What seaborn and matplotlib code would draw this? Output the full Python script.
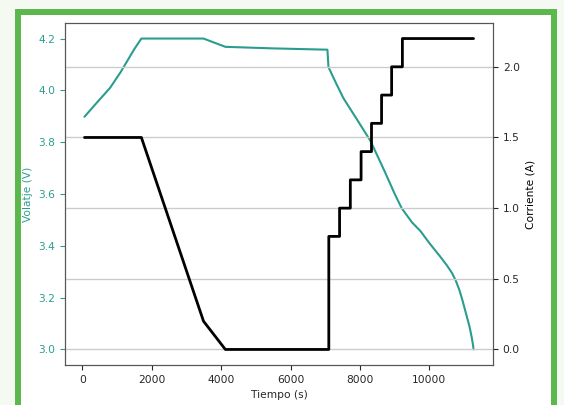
import pandas as pd
from matplotlib import pyplot as plt
from matplotlib.patches import Rectangle
import seaborn as sns

# voltage trace (s, V)
t_volt = [60, 400, 800, 1100, 1300, 1500, 1700, 3490, 4120, 5500, 7060, 7090,
          7300, 7520, 7900, 8300, 8700, 9000, 9200, 9500, 9740, 10000, 10300,
          10500, 10650, 10760, 10860, 10950, 11030, 11100, 11150, 11190, 11220,
          11245, 11260, 11270]
voltaje = [3.898, 3.95, 4.01, 4.07, 4.115, 4.16, 4.2, 4.2, 4.168, 4.162, 4.157, 4.09,
           4.03, 3.97, 3.89, 3.805, 3.69, 3.60, 3.545, 3.49, 3.457, 3.41, 3.36,
           3.325, 3.295, 3.265, 3.23, 3.19, 3.15, 3.115, 3.09, 3.065, 3.045,
           3.025, 3.012, 3.0]

# current profile (s, A)
t_corr = [60, 1700, 3490, 4120, 7100, 7100, 7410, 7410, 7720, 7720, 8030, 8030,
          8330, 8330, 8620, 8620, 8910, 8910, 9220, 9220, 11270]
corriente = [1.5, 1.5, 0.2, 0.0, 0.0, 0.8, 0.8, 1.0, 1.0, 1.2, 1.2, 1.4,
             1.4, 1.6, 1.6, 1.8, 1.8, 2.0, 2.0, 2.2, 2.2]

volt_df = pd.DataFrame({'t': t_volt, 'v': voltaje})
corr_df = pd.DataFrame({'t': t_corr, 'i': corriente})

sns.set_style('ticks')
plt.rcParams['font.family'] = ['DejaVu Sans']
plt.rcParams['font.size'] = 7.7

teal = '#2a9d8f'

fig = plt.figure(figsize=(5.64, 4.05), dpi=100, facecolor='#f4f9f2')
# green frame around the chart
fig.patches.append(Rectangle((15 / 564, -0.1), 542 / 564, 1.1 - 9 / 405,
                             transform=fig.transFigure, facecolor='#5cb84c',
                             edgecolor='none', zorder=-2))
fig.patches.append(Rectangle((21 / 564, -0.1), 530 / 564, 1.1 - 15 / 405,
                             transform=fig.transFigure, facecolor='white',
                             edgecolor='none', zorder=-1))

ax = fig.add_axes([65 / 564, 40 / 405, 428 / 564, 342 / 405])
ax2 = ax.twinx()

sns.lineplot(ax=ax, data=volt_df, x='t', y='v', color=teal, linewidth=1.5,
             estimator=None, sort=False)
sns.lineplot(ax=ax2, data=corr_df, x='t', y='i', color='black', linewidth=2,
             estimator=None, sort=False)

ax.set_xlabel('Tiempo (s)', fontsize=7.7)
ax.set_ylabel('Volatje (V)', color=teal, fontsize=7.7)
ax2.set_ylabel('Corriente (A)', color='black', fontsize=7.7)
ax.tick_params(axis='y', colors=teal, labelsize=7.7)
ax.tick_params(axis='x', labelsize=7.7)
ax2.tick_params(axis='y', labelsize=7.7)
ax.set_yticks([3.0, 3.2, 3.4, 3.6, 3.8, 4.0, 4.2])
ax2.set_yticks([0.0, 0.5, 1.0, 1.5, 2.0])
ax.set_xticks([0, 2000, 4000, 6000, 8000, 10000])
ax2.grid(axis='y', color='#cccccc', linewidth=1)
ax.grid(False)

for a in (ax, ax2):
    for s in a.spines.values():
        s.set_color('#555555')

fig.savefig('out.png', dpi=100, facecolor=fig.get_facecolor())
